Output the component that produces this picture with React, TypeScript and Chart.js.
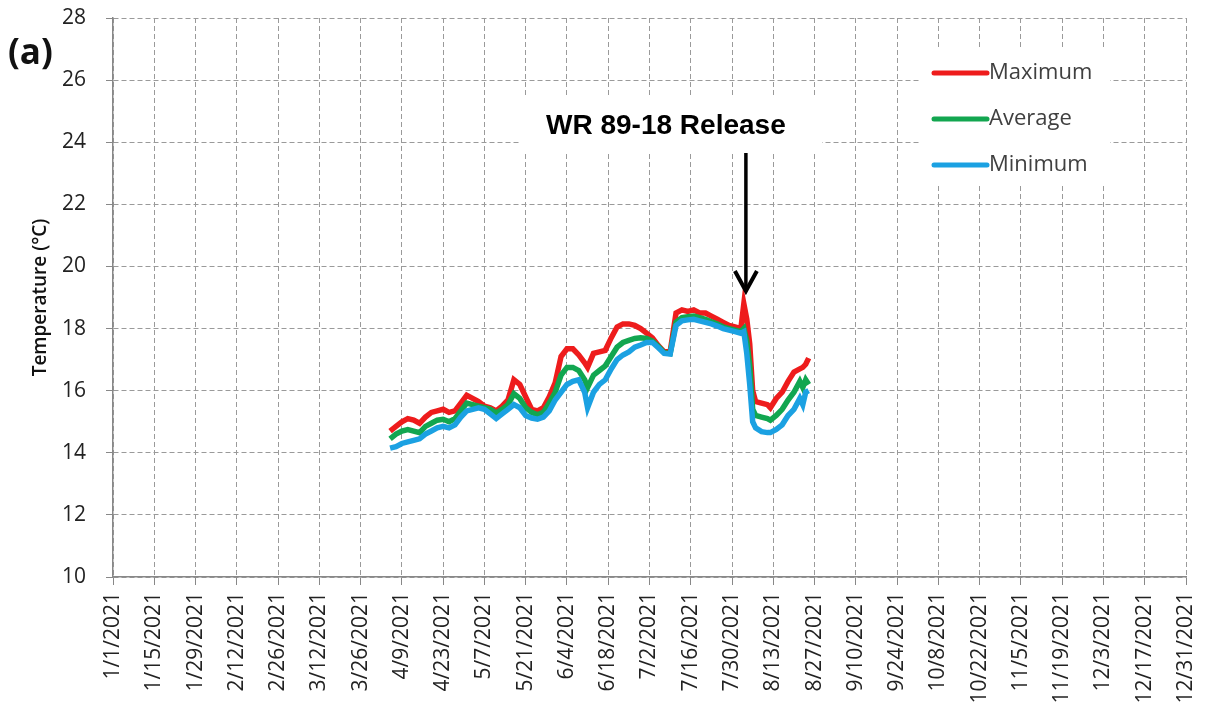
import React, { useEffect, useRef } from "react";
import { Chart, registerables } from "chart.js";

Chart.register(...registerables);

// ---- data (day of year 2021, 0 = 1/1/2021) ----
const DAYS = [
  94, 96, 98, 100, 102, 104, 106, 108, 110, 112, 114, 116, 118, 120, 122, 124, 126, 128, 130, 132,
  134, 136, 138, 140, 142, 144, 146, 148, 150, 152, 154, 156, 158, 160, 161, 163, 165, 167, 169, 171,
  173, 175, 177, 179, 181, 183, 185, 187, 189, 191, 193, 195, 197, 199, 201, 203, 205, 207, 209, 211,
  213, 214, 215, 216, 217, 218, 220, 222, 223, 225, 227, 229, 231, 233, 234, 235, 236,
];
const MAXIMUM = [
  14.7, 14.85, 15.0, 15.1, 15.05, 14.95, 15.15, 15.3, 15.35, 15.4, 15.3, 15.35, 15.6, 15.85, 15.75, 15.65, 15.5, 15.45, 15.35, 15.5,
  15.7, 16.35, 16.2, 15.8, 15.4, 15.35, 15.45, 15.8, 16.25, 17.1, 17.35, 17.35, 17.15, 16.9, 16.75, 17.2, 17.25, 17.3, 17.7, 18.05,
  18.15, 18.15, 18.1, 18.0, 17.85, 17.7, 17.45, 17.25, 17.25, 18.5, 18.6, 18.55, 18.6, 18.5, 18.5, 18.4, 18.3, 18.2, 18.1, 18.05,
  18.0, 18.8, 18.3, 17.5, 16.0, 15.65, 15.6, 15.55, 15.45, 15.75, 15.95, 16.3, 16.6, 16.7, 16.75, 16.85, 17.05,
];
const AVERAGE = [
  14.45, 14.6, 14.7, 14.75, 14.7, 14.65, 14.85, 14.95, 15.05, 15.08, 15.0, 15.1, 15.35, 15.6, 15.55, 15.5, 15.45, 15.4, 15.28, 15.4,
  15.55, 15.9, 15.75, 15.45, 15.3, 15.22, 15.3, 15.6, 15.95, 16.5, 16.75, 16.75, 16.65, 16.35, 16.1, 16.5, 16.65, 16.8, 17.1, 17.4,
  17.55, 17.62, 17.68, 17.7, 17.68, 17.6, 17.42, 17.22, 17.2, 18.2, 18.35, 18.38, 18.4, 18.35, 18.3, 18.22, 18.15, 18.05, 18.0, 17.95,
  17.9, 18.0, 17.6, 16.8, 15.4, 15.2, 15.15, 15.1, 15.05, 15.2, 15.4, 15.7, 15.95, 16.3, 16.1, 16.35, 16.2,
];
const MINIMUM = [
  14.15, 14.2, 14.3, 14.35, 14.4, 14.45, 14.6, 14.7, 14.8, 14.85, 14.8, 14.9, 15.15, 15.35, 15.4, 15.45, 15.4, 15.25, 15.1, 15.25,
  15.4, 15.55, 15.45, 15.2, 15.12, 15.08, 15.15, 15.35, 15.7, 15.95, 16.2, 16.3, 16.35, 15.95, 15.45, 15.95, 16.2, 16.35, 16.7, 17.0,
  17.15, 17.25, 17.4, 17.47, 17.55, 17.55, 17.38, 17.2, 17.18, 18.1, 18.25, 18.28, 18.3, 18.25, 18.2, 18.15, 18.08, 18.0, 17.95, 17.9,
  17.85, 17.9, 17.2, 16.2, 15.0, 14.8, 14.68, 14.65, 14.65, 14.75, 14.9, 15.2, 15.4, 15.75, 15.55, 15.95, 16.0,
];

const SERIES_NAMES = ["Maximum", "Average", "Minimum"];
const SERIES_COLORS = ["#ee1c1c", "#12a650", "#1ba1e2"];
const YEAR = 2021;
const X_MIN_DAY = 0;
const X_MAX_DAY = 364;
const X_STEP_DAYS = 14;
const Y_MIN = 10;
const Y_MAX = 28;
const Y_STEP = 2;
const Y_TITLE = "Temperature (°C)";
const PANEL_LABEL = "(a)";
const ANNOTATION_TEXT = "WR 89-18 Release";
const ANNOTATION_DAY = 214.7;

const formatDay = (v: number) => {
  const d = new Date(Date.UTC(YEAR, 0, 1 + Math.round(v)));
  return `${d.getUTCMonth() + 1}/${d.getUTCDate()}/${d.getUTCFullYear()}`;
};

const toPoints = (vals: number[]) => DAYS.map((d, i) => ({ x: d, y: vals[i] }));

const zeroPadding = (scale: any) => {
  scale.paddingTop = 0;
  scale.paddingBottom = 0;
  scale.paddingLeft = 0;
  scale.paddingRight = 0;
};

const overlayPlugin = {
  id: "overlay",
  beforeDatasetsDraw(chart: any) {
    const ctx = chart.ctx;
    ctx.save();
    ctx.fillStyle = "#ffffff";
    // white backing behind annotation text and legend
    ctx.fillRect(519, 97, 303, 54);
    ctx.fillRect(921, 50, 189, 134);
    ctx.restore();
  },
  afterDraw(chart: any) {
    const ctx = chart.ctx;
    const xs = chart.scales.x;
    ctx.save();
    // panel label
    ctx.fillStyle = "#111";
    ctx.font = 'bold 35px "Open Sans"';
    ctx.textAlign = "left";
    ctx.textBaseline = "alphabetic";
    ctx.fillText(PANEL_LABEL, 8, 64);

    // annotation
    const ax = xs.getPixelForValue(ANNOTATION_DAY);
    ctx.font = 'bold 28px "Liberation Sans"';
    ctx.textAlign = "center";
    ctx.fillStyle = "#000";
    ctx.fillText(ANNOTATION_TEXT, ax - 80, 134);
    ctx.strokeStyle = "#000";
    ctx.lineWidth = 3.5;
    ctx.beginPath();
    ctx.moveTo(ax, 153);
    ctx.lineTo(ax, 290);
    ctx.stroke();
    ctx.lineWidth = 4;
    ctx.lineJoin = "miter";
    ctx.beginPath();
    ctx.moveTo(ax - 11, 271);
    ctx.lineTo(ax, 291);
    ctx.lineTo(ax + 11, 271);
    ctx.stroke();

    // legend
    ctx.font = '22px "Open Sans"';
    ctx.textAlign = "left";
    ctx.textBaseline = "middle";
    SERIES_NAMES.forEach((name, i) => {
      const y = 73 + i * 46;
      ctx.strokeStyle = SERIES_COLORS[i];
      ctx.lineWidth = 5;
      ctx.lineCap = "round";
      ctx.beginPath();
      ctx.moveTo(934, y);
      ctx.lineTo(987, y);
      ctx.stroke();
      ctx.fillStyle = "#404040";
      ctx.fillText(name, 989, y);
    });
    ctx.restore();
  },
};

export default function App() {
  const canvasRef = useRef<HTMLCanvasElement | null>(null);

  useEffect(() => {
    document.body.style.margin = "0";
    document.body.style.background = "#ffffff";
    const canvas = canvasRef.current;
    if (!canvas) return;
    const tickFont = { family: '"Open Sans"', size: 21 };
    const chart = new Chart(canvas, {
      type: "line",
      data: {
        datasets: SERIES_NAMES.map((name, i) => ({
          label: name,
          data: toPoints([MAXIMUM, AVERAGE, MINIMUM][i]),
          borderColor: SERIES_COLORS[i],
          backgroundColor: SERIES_COLORS[i],
          borderWidth: 5.5,
          pointRadius: 0,
          tension: 0,
          fill: false,
          order: 3 - i,
        })),
      },
      options: {
        responsive: false,
        animation: false,
        layout: { padding: { top: 18, right: 23, left: 0, bottom: 0 } },
        plugins: {
          legend: { display: false },
          tooltip: { enabled: false },
        },
        scales: {
          x: {
            type: "linear",
            min: X_MIN_DAY,
            max: X_MAX_DAY,
            ticks: {
              stepSize: X_STEP_DAYS,
              autoSkip: false,
              maxRotation: 90,
              minRotation: 90,
              padding: 7,
              color: "#222",
              font: tickFont,
              callback: (v: any) => formatDay(Number(v)),
            },
            grid: {
              color: "#9a9a9a",
              lineWidth: 1,
              tickLength: 8,
              tickColor: "#888",
            },
            border: { display: true, color: "#888", width: 1.5, dash: [5, 3] },
            afterFit: (scale: any) => {
              scale.height = 142;
              zeroPadding(scale);
            },
          },
          y: {
            type: "linear",
            min: Y_MIN,
            max: Y_MAX,
            ticks: {
              stepSize: Y_STEP,
              padding: 20,
              color: "#222",
              font: tickFont,
            },
            grid: {
              color: "#9a9a9a",
              lineWidth: 1,
              tickLength: 7,
              tickColor: "#888",
            },
            border: { display: true, color: "#888", width: 1.5, dash: [5, 3] },
            title: {
              display: true,
              text: Y_TITLE,
              color: "#111",
              font: { family: '"Open Sans"', size: 19, weight: "600" },
              padding: { top: 29, bottom: 0 },
            },
            afterFit: (scale: any) => {
              scale.width = 113;
              zeroPadding(scale);
            },
          },
        },
      },
      plugins: [overlayPlugin],
    } as any);
    return () => chart.destroy();
  }, []);

  return <canvas ref={canvasRef} width={1209} height={719} style={{ display: "block" }} />;
}
